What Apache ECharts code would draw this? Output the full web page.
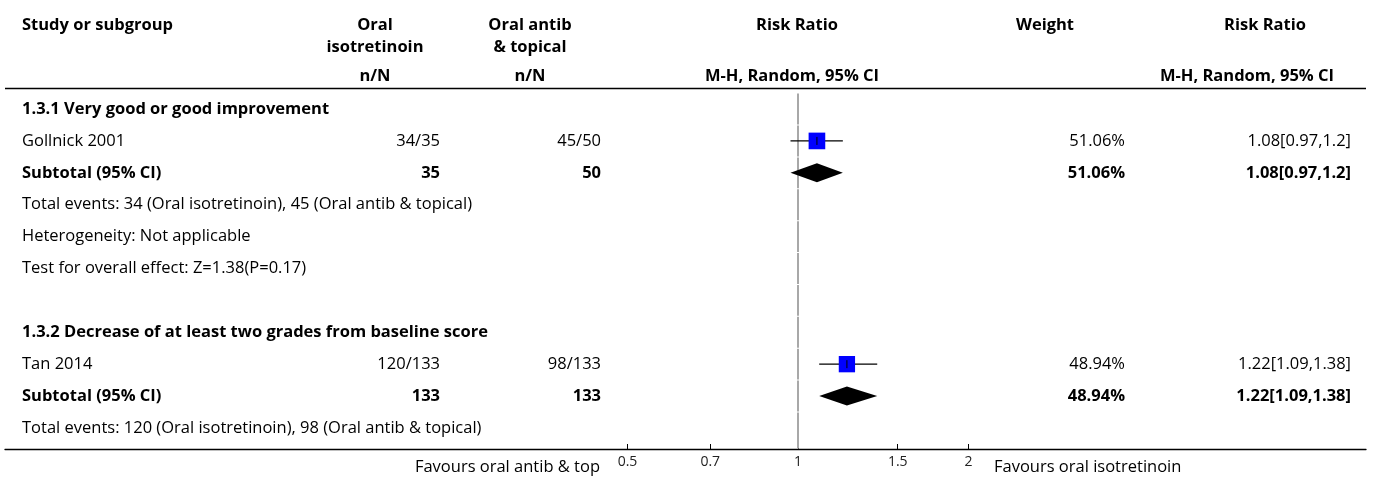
<!DOCTYPE html>
<html><head><meta charset="utf-8">
<script src="https://cdn.jsdelivr.net/npm/echarts@6/dist/echarts.min.js"></script>
<style>html,body{margin:0;padding:0;background:#fff}#c{width:1375px;height:478px}</style>
</head><body><div id="c"></div>
<script>
// ---------- data ----------
const rowLabels = [
  '1.3.1 Very good or good improvement',
  'Gollnick 2001',
  'Subtotal (95% CI)',
  'Total events: 34 (Oral isotretinoin), 45 (Oral antib & topical)',
  'Heterogeneity: Not applicable',
  'Test for overall effect: Z=1.38(P=0.17)',
  '',
  '1.3.2 Decrease of at least two grades from baseline score',
  'Tan 2014',
  'Subtotal (95% CI)',
  'Total events: 120 (Oral isotretinoin), 98 (Oral antib & topical)'
];
const boldRows = [0, 2, 7, 9];
const isoCounts   = ['', '34/35', '35', '', '', '', '', '', '120/133', '133', ''];
const antibCounts = ['', '45/50', '50', '', '', '', '', '', '98/133', '133', ''];
const weightText  = ['', '51.06%', '51.06%', '', '', '', '', '', '48.94%', '48.94%', ''];
const rrText      = ['', '1.08[0.97,1.2]', '1.08[0.97,1.2]', '', '', '', '', '', '1.22[1.09,1.38]', '1.22[1.09,1.38]', ''];

const studyRows = [1, 8];
const studyRR = [1.08, 1.22];
const studyLo = [0.97, 1.09];
const studyHi = [1.2, 1.38];
const studyWeight = [51.06, 48.94];

const subtotalRows = [2, 9];
const subtotalRR = [1.08, 1.22];
const subtotalLo = [0.97, 1.09];
const subtotalHi = [1.2, 1.38];

const xTickValues = [0.5, 0.7, 1, 1.5, 2];
const headerCols = ['Study or subgroup', 'Oral\nisotretinoin', 'Oral antib\n& topical', 'Risk Ratio', 'Weight', 'Risk Ratio'];
const subHeaderCols = ['n/N', 'n/N', 'M-H, Random, 95% CI', 'M-H, Random, 95% CI'];
const favoursLeft = 'Favours oral antib & top';
const favoursRight = 'Favours oral isotretinoin';

// ---------- layout ----------
const FONT = '"Open Sans", "Noto Sans", sans-serif';
const FS = 16.5;
const TOP = 88, BOTTOM = 29;
const YMIN = -0.66, YMAX = 10.66;
const colX = { label: 22, iso: 440, antib: 601, weight: 1125, rr: 1351 };

const textItems = [];
rowLabels.forEach((t, i) => { if (t) textItems.push({ value: [colX.label, i], text: t, bold: boldRows.includes(i), align: 'left' }); });
[[isoCounts, colX.iso], [antibCounts, colX.antib], [weightText, colX.weight], [rrText, colX.rr]].forEach(([arr, x]) => {
  arr.forEach((t, i) => { if (t) textItems.push({ value: [x, i], text: t, bold: boldRows.includes(i), align: 'right' }); });
});

const chart = echarts.init(document.getElementById('c'), null, { renderer: 'canvas' });

const refRows = rowLabels.map((_, i) => [1, i]);
const hdr = (text, x, y, align) => ({ type: 'text', x, y, style: { text, font: 'bold ' + FS + 'px ' + FONT, fill: '#000', textAlign: align, textVerticalAlign: 'middle', lineHeight: 22 } });

const option = {
  animation: false,
  backgroundColor: '#fff',
  grid: [
    { left: 5, right: 9, top: TOP, bottom: BOTTOM },
    { left: 627.5, right: 406.5, top: TOP, bottom: BOTTOM }
  ],
  xAxis: [
    { gridIndex: 0, type: 'value', min: 5, max: 1366, position: 'bottom',
      axisLine: { show: true, onZero: false, lineStyle: { color: '#000', width: 1.3 } },
      axisTick: { show: false }, axisLabel: { show: false }, splitLine: { show: false } },
    { gridIndex: 1, type: 'log', logBase: 10, min: 0.5, max: 2, position: 'bottom',
      axisLine: { show: false, onZero: false },
      axisTick: { show: true, inside: true, length: 5, lineStyle: { color: '#000' }, customValues: xTickValues },
      axisLabel: { show: true, customValues: xTickValues, fontFamily: FONT, fontSize: 14, color: '#222', margin: 6 },
      splitLine: { show: false }, minorTick: { show: false } }
  ],
  yAxis: [
    { gridIndex: 0, type: 'value', min: YMIN, max: YMAX, inverse: true, show: false },
    { gridIndex: 1, type: 'value', min: YMIN, max: YMAX, inverse: true, show: false }
  ],
  series: [
    {
      type: 'custom', xAxisIndex: 0, yAxisIndex: 0, clip: false,
      data: textItems,
      renderItem: (params, api) => {
        const it = textItems[params.dataIndex];
        const p = api.coord([api.value(0), api.value(1)]);
        return { type: 'text', x: p[0], y: p[1], style: { text: it.text, fill: '#000', font: (it.bold ? 'bold ' : '') + FS + 'px ' + FONT, textAlign: it.align, textVerticalAlign: 'middle' } };
      }
    },
    {
      type: 'custom', xAxisIndex: 1, yAxisIndex: 1, clip: false,
      data: refRows,
      renderItem: (params, api) => {
        const r = api.value(1);
        const a = api.coord([1, r - 0.5]);
        const b = api.coord([1, r === rowLabels.length - 1 ? YMAX : r + 0.5]);
        return { type: 'line', shape: { x1: a[0], y1: a[1] + 0.5, x2: b[0], y2: b[1] - 0.5 }, style: { stroke: '#a8a8a8', lineWidth: 2 } };
      }
    },
    {
      type: 'custom', xAxisIndex: 1, yAxisIndex: 1, clip: false,
      data: studyRows.map((r, i) => [studyRR[i], r, studyLo[i], studyHi[i], studyWeight[i]]),
      renderItem: (params, api) => {
        const c = api.coord([api.value(0), api.value(1)]);
        const lo = api.coord([api.value(2), api.value(1)]);
        const hi = api.coord([api.value(3), api.value(1)]);
        const s = 2.33 * Math.sqrt(api.value(4));
        return { type: 'group', children: [
          { type: 'line', shape: { x1: lo[0], y1: c[1], x2: hi[0], y2: c[1] }, style: { stroke: '#000', lineWidth: 1.3 } },
          { type: 'rect', shape: { x: c[0] - s / 2, y: c[1] - s / 2, width: s, height: s }, style: { fill: '#0000ff' } },
          { type: 'line', shape: { x1: c[0], y1: c[1] - 4, x2: c[0], y2: c[1] + 4 }, style: { stroke: '#000', lineWidth: 1 } }
        ] };
      }
    },
    {
      type: 'custom', xAxisIndex: 1, yAxisIndex: 1, clip: false,
      data: subtotalRows.map((r, i) => [subtotalRR[i], r, subtotalLo[i], subtotalHi[i]]),
      renderItem: (params, api) => {
        const c = api.coord([api.value(0), api.value(1)]);
        const lo = api.coord([api.value(2), api.value(1)]);
        const hi = api.coord([api.value(3), api.value(1)]);
        const h = 9.5;
        return { type: 'polygon', shape: { points: [[lo[0], c[1]], [c[0], c[1] - h], [hi[0], c[1]], [c[0], c[1] + h]] }, style: { fill: '#000' } };
      }
    }
  ],
  graphic: [
    hdr(headerCols[0], 22, 25, 'left'),
    hdr(headerCols[1], 375, 36, 'center'),
    hdr(headerCols[2], 530, 36, 'center'),
    hdr(headerCols[3], 797, 25, 'center'),
    hdr(headerCols[4], 1045, 25, 'center'),
    hdr(headerCols[5], 1265, 25, 'center'),
    hdr(subHeaderCols[0], 375, 76, 'center'),
    hdr(subHeaderCols[1], 530, 76, 'center'),
    hdr(subHeaderCols[2], 792, 76, 'center'),
    hdr(subHeaderCols[3], 1334, 76, 'right'),
    { type: 'line', shape: { x1: 5, y1: 88.5, x2: 1366, y2: 88.5 }, style: { stroke: '#000', lineWidth: 1.5 } },
    { type: 'text', x: 600, y: 467, style: { text: favoursLeft, font: FS + 'px ' + FONT, fill: '#000', textAlign: 'right', textVerticalAlign: 'middle' } },
    { type: 'text', x: 994, y: 467, style: { text: favoursRight, font: FS + 'px ' + FONT, fill: '#000', textAlign: 'left', textVerticalAlign: 'middle' } }
  ]
};
chart.setOption(option);
</script>
</body></html>
